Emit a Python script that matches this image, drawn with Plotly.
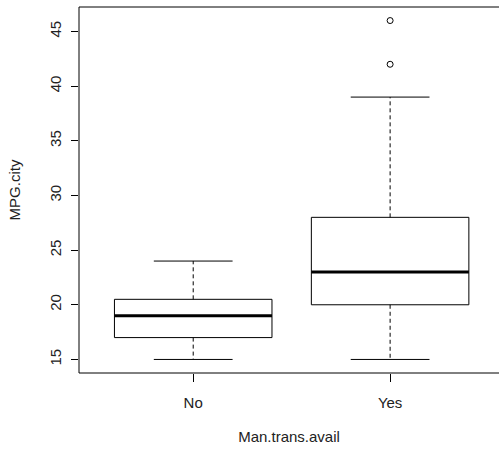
import plotly.graph_objects as go

categories = ["No", "Yes"]
lower_whisker = [15, 15]
q1 = [17, 20]
median = [19, 23]
q3 = [20.5, 28]
upper_whisker = [24, 39]
outliers = [[], [42, 46]]
y_ticks = [15, 20, 25, 30, 35, 40, 45]

BOX_HALF = 0.4
CAP_HALF = 0.2

fig = go.Figure()
for i, cat in enumerate(categories):
    p = i + 1
    # box
    fig.add_trace(go.Scatter(
        x=[p - BOX_HALF, p + BOX_HALF, p + BOX_HALF, p - BOX_HALF, p - BOX_HALF],
        y=[q1[i], q1[i], q3[i], q3[i], q1[i]],
        mode="lines", line=dict(color="black", width=1), hoverinfo="skip"))
    # median
    fig.add_trace(go.Scatter(
        x=[p - BOX_HALF, p + BOX_HALF], y=[median[i], median[i]],
        mode="lines", line=dict(color="black", width=3), hoverinfo="skip"))
    # whiskers
    fig.add_trace(go.Scatter(
        x=[p, p, None, p, p], y=[q3[i], upper_whisker[i], None, q1[i], lower_whisker[i]],
        mode="lines", line=dict(color="black", width=1, dash="4px,3px"), hoverinfo="skip"))
    # caps
    fig.add_trace(go.Scatter(
        x=[p - CAP_HALF, p + CAP_HALF, None, p - CAP_HALF, p + CAP_HALF],
        y=[upper_whisker[i], upper_whisker[i], None, lower_whisker[i], lower_whisker[i]],
        mode="lines", line=dict(color="black", width=1), hoverinfo="skip"))
    if outliers[i]:
        fig.add_trace(go.Scatter(
            x=[p] * len(outliers[i]), y=outliers[i], mode="markers",
            marker=dict(symbol="circle-open", size=6, color="black", line=dict(width=1)),
            hoverinfo="skip"))

font = "Liberation Sans, Arial, sans-serif"
fig.update_layout(
    width=499, height=450,
    margin=dict(l=79, r=0, t=7, b=77),
    plot_bgcolor="white", paper_bgcolor="white",
    showlegend=False,
    font=dict(family=font, size=15, color="#222222"),
    xaxis=dict(range=[0.42, 2.553], tickvals=[1, 2], ticktext=categories,
               ticks="outside", ticklen=8, tickcolor="black", tickwidth=1,
               tickfont=dict(size=15),
               showgrid=False, zeroline=False, showline=False,
               title=dict(text="Man.trans.avail", standoff=21, font=dict(size=15)),
               ticklabelstandoff=8),
    yaxis=dict(range=[13.76, 47.24], tickvals=y_ticks, tickangle=-90,
               ticks="outside", ticklen=7, tickcolor="black", tickwidth=1,
               tickfont=dict(size=15),
               showgrid=False, zeroline=False, showline=False,
               title=dict(text="MPG.city", standoff=22, font=dict(size=15)),
               ticklabelstandoff=4),
    shapes=[dict(type="rect", xref="paper", yref="paper", x0=0, x1=1.02, y0=0, y1=1,
                 line=dict(color="black", width=1))],
)
fig.write_html("out.html")
